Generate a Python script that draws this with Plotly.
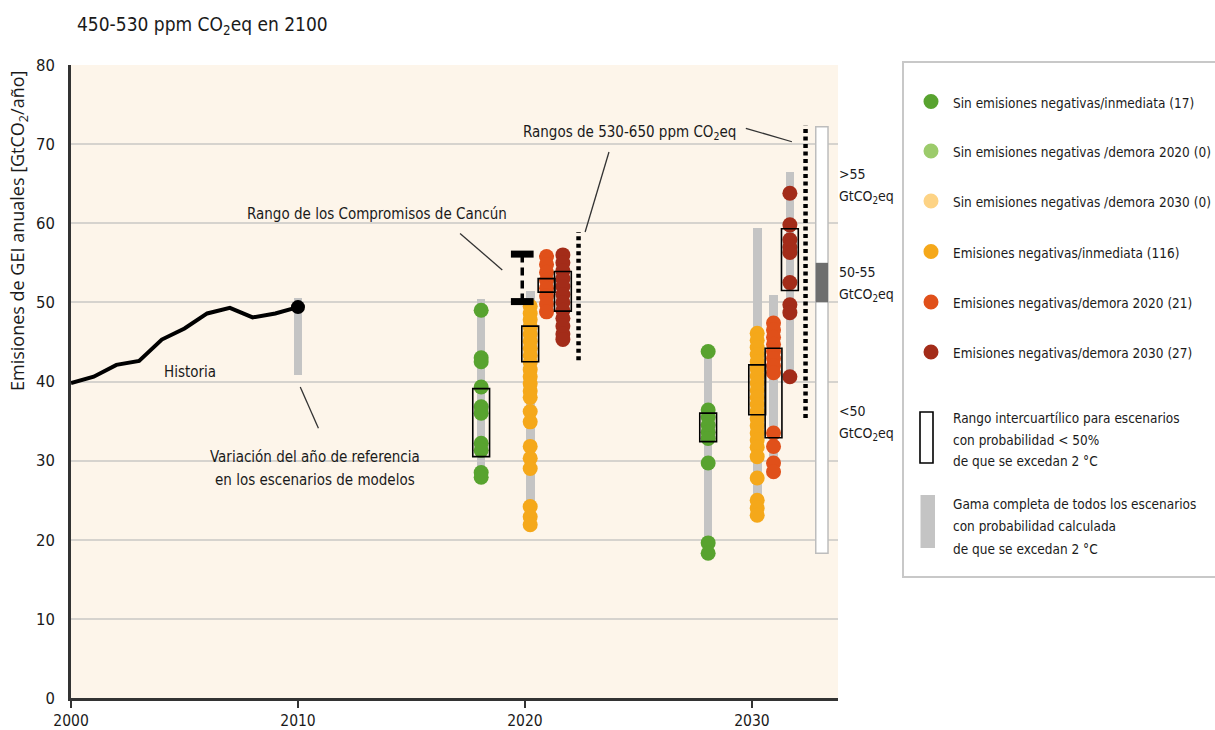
import plotly.graph_objects as go

# ---------------- data ----------------
hist_years = [2000, 2001, 2002, 2003, 2004, 2005, 2006, 2007, 2008, 2009, 2010]
hist_emis = [39.8, 40.6, 42.1, 42.6, 45.3, 46.7, 48.6, 49.3, 48.1, 48.6, 49.4]
base_year_low, base_year_high = 40.8, 50.6

out_years = [2020, 2030]

# scenario values (GtCO2eq/yr) per scenario group
green_2020 = [49.0, 43.0, 42.5, 39.3, 36.8, 36.0, 32.2, 31.3, 28.5, 27.9]
orange_2020 = [49.5, 48.6, 47.8, 46.9, 46.0, 45.1, 44.2, 43.3, 42.4, 41.5, 40.6, 39.7,
               38.8, 38.0, 36.2, 34.9, 31.8, 30.3, 29.0, 24.2, 22.9, 21.9]
redorange_2020 = [55.8, 54.8, 53.8, 52.8, 51.8, 50.8, 49.8, 48.8]
darkred_2020 = [56.0, 55.0, 54.0, 53.0, 52.0, 51.0, 50.0, 49.0, 48.0, 47.0, 46.0, 45.3]

green_2030 = [43.8, 36.4, 35.5, 34.5, 33.6, 32.8, 29.7, 19.6, 18.3]
orange_2030 = [46.1, 45.2, 44.3, 43.4, 42.5, 41.6, 40.7, 39.8, 38.9, 38.0, 37.1, 36.2,
               35.3, 34.4, 33.5, 32.6, 31.7, 30.5, 27.8, 25.0, 24.0, 23.1]
redorange_2030 = [47.4, 46.5, 45.6, 44.7, 43.8, 42.9, 42.0, 41.1, 33.5, 31.8, 29.7, 28.6]
darkred_2030 = [63.8, 59.8, 57.9, 57.0, 56.3, 52.5, 49.7, 48.7, 40.6]

# full ranges (grey bars): [low, high]
range_2020 = {"green": [27.5, 50.4], "orange": [21.2, 51.4],
              "redorange": [48.5, 56.0], "darkred": [45.0, 56.3]}
range_2030 = {"green": [18.3, 44.0], "orange": [22.5, 59.4],
              "redorange": [28.5, 50.9], "darkred": [40.6, 66.5]}

# interquartile ranges (boxes): [q1, q3]
iqr_2020 = {"green": [30.5, 39.1], "orange": [42.5, 47.0],
            "redorange": [51.3, 53.0], "darkred": [48.9, 53.9]}
iqr_2030 = {"green": [32.4, 36.0], "orange": [35.8, 42.1],
            "redorange": [32.9, 44.2], "darkred": [51.5, 59.3]}

cancun_low, cancun_high = 50.1, 56.1
ppm530_2020 = [42.7, 58.9]
ppm530_2030 = [35.4, 72.4]

gap_bar = [18.3, 72.2]
gap_band = [50.0, 55.0]

legend_labels = [
    "Sin emisiones negativas/inmediata (17)",
    "Sin emisiones negativas /demora 2020 (0)",
    "Sin emisiones negativas /demora 2030 (0)",
    "Emisiones negativas/inmediata (116)",
    "Emisiones negativas/demora 2020 (21)",
    "Emisiones negativas/demora 2030 (27)",
]

# ---------------- style ----------------
COLORS = {"green": "#58A32F", "lightgreen": "#9CCB6B", "lightorange": "#FDD385",
          "orange": "#F5A81A", "redorange": "#E0501A", "darkred": "#A32C19"}
OFFSET = {"green": -1.93, "orange": 0.23, "redorange": 0.95, "darkred": 1.67}
CANCUN_OFFSET = -0.12
DOTTED_OFFSET = 2.36
BG = "#FDF5EA"
GRID = "#D6D3CE"
GREY = "#C4C4C4"
NARROW = "Liberation Sans Narrow, DejaVu Sans Condensed, Arial Narrow, sans-serif"
REG = "Open Sans, Noto Sans, sans-serif"

W, H = 1215, 730
ML, MR, MT, MB = 71, 377, 65, 32
PW, PH = W - ML - MR, H - MT - MB


def px(x):
    return (x - ML) / PW


def py(y):
    return (H - MB - y) / PH


fig = go.Figure()

groups = ["green", "orange", "redorange", "darkred"]
values = {2020: {"green": green_2020, "orange": orange_2020,
                 "redorange": redorange_2020, "darkred": darkred_2020},
          2030: {"green": green_2030, "orange": orange_2030,
                 "redorange": redorange_2030, "darkred": darkred_2030}}
ranges = {2020: range_2020, 2030: range_2030}
iqrs = {2020: iqr_2020, 2030: iqr_2030}

# grey full-range bars
bx, bbase, bh = [2010], [base_year_low], [base_year_high - base_year_low]
for yr in out_years:
    for g in groups:
        lo, hi = ranges[yr][g]
        bx.append(yr + OFFSET[g])
        bbase.append(lo)
        bh.append(hi - lo)
fig.add_trace(go.Bar(x=bx, y=bh, base=bbase, width=0.38, marker_color=GREY,
                     marker_line_width=0, showlegend=False, hoverinfo="skip"))

# scenario dots
for yr in out_years:
    for g in groups:
        v = values[yr][g]
        fig.add_trace(go.Scatter(x=[yr + OFFSET[g]] * len(v), y=v, mode="markers",
                                 marker=dict(size=15, color=COLORS[g], line_width=0),
                                 showlegend=False))

# history
fig.add_trace(go.Scatter(x=hist_years, y=hist_emis, mode="lines",
                         line=dict(color="black", width=4), showlegend=False))
fig.add_trace(go.Scatter(x=[hist_years[-1]], y=[hist_emis[-1]], mode="markers",
                         marker=dict(size=14, color="black"), showlegend=False))

# Cancún pledges range
cx = out_years[0] + CANCUN_OFFSET
fig.add_trace(go.Scatter(x=[cx, cx], y=[cancun_low, cancun_high], mode="lines",
                         line=dict(color="black", width=3.5, dash="8px,5px"),
                         showlegend=False))
for v in (cancun_low, cancun_high):
    fig.add_trace(go.Scatter(x=[cx - 0.5, cx + 0.5], y=[v, v], mode="lines",
                             line=dict(color="black", width=7), showlegend=False))

# 530-650 ppm ranges (dotted)
for yr, rng in zip(out_years, [ppm530_2020, ppm530_2030]):
    fig.add_trace(go.Scatter(x=[yr + DOTTED_OFFSET] * 2, y=rng, mode="lines",
                             line=dict(color="black", width=4.5, dash="4px,3.5px"),
                             showlegend=False))

shapes = []
# interquartile boxes
for yr in out_years:
    for g in groups:
        q1, q3 = iqrs[yr][g]
        xc = yr + OFFSET[g]
        shapes.append(dict(type="rect", xref="x", yref="y", x0=xc - 0.37, x1=xc + 0.37,
                           y0=q1, y1=q3, line=dict(color="black", width=1.6),
                           fillcolor="rgba(0,0,0,0)", layer="above"))

# emission gap bar at the right edge
gx = 2033.08
shapes.append(dict(type="rect", xref="x", yref="y", x0=gx - 0.27, x1=gx + 0.27,
                   y0=gap_bar[0], y1=gap_bar[1], fillcolor="white",
                   line=dict(color="#BDBDBD", width=1.5), layer="above"))
shapes.append(dict(type="rect", xref="x", yref="y", x0=gx - 0.27, x1=gx + 0.27,
                   y0=gap_band[0], y1=gap_band[1], fillcolor="#6E6E6E",
                   line=dict(width=0), layer="above"))

# leader lines
leaders = [
    ((2010.1, 39.3), (2010.9, 34.1)),
    ((2017.14, 58.7), (2019.0, 54.1)),
    ((2023.7, 69.0), (2022.65, 58.9)),
    ((2029.73, 72.0), (2031.76, 70.3)),
]
for (xa, ya), (xb, yb) in leaders:
    shapes.append(dict(type="line", xref="x", yref="y", x0=xa, y0=ya, x1=xb, y1=yb,
                       line=dict(color="#333333", width=1.3)))

# legend panel
shapes.append(dict(type="rect", xref="paper", yref="paper",
                   x0=px(903), x1=px(1230), y0=py(577), y1=py(62),
                   fillcolor="white", line=dict(color="#C8C8C8", width=2)))
leg_y = [101.5, 151, 201, 251.5, 302, 352]
leg_cols = ["green", "lightgreen", "lightorange", "orange", "redorange", "darkred"]
for yy, c in zip(leg_y, leg_cols):
    shapes.append(dict(type="circle", xref="paper", yref="paper",
                       x0=px(923.5), x1=px(938.5), y0=py(yy + 7.5), y1=py(yy - 7.5),
                       fillcolor=COLORS[c], line=dict(width=0)))
shapes.append(dict(type="rect", xref="paper", yref="paper",
                   x0=px(920), x1=px(933), y0=py(463), y1=py(412),
                   fillcolor="white", line=dict(color="black", width=1.6)))
shapes.append(dict(type="rect", xref="paper", yref="paper",
                   x0=px(920.5), x1=px(935), y0=py(548), y1=py(495),
                   fillcolor=GREY, line=dict(width=0)))

annotations = []


def text(x, y, s, size=15, xanchor="left", ref="paper", font=NARROW, **kw):
    if ref == "paper":
        annotations.append(dict(x=px(x), y=py(y), xref="paper", yref="paper", text=s,
                                showarrow=False, xanchor=xanchor, yanchor="middle",
                                font=dict(family=font, size=size, color="#1A1A1A"), **kw))
    else:
        annotations.append(dict(x=x, y=y, xref="x", yref="y", text=s,
                                showarrow=False, xanchor=xanchor, yanchor="middle",
                                font=dict(family=font, size=size, color="#1A1A1A"), **kw))


text(75, 26, "450-530 ppm CO<sub>2</sub>eq en 2100", size=19)
text(19, 231, "Emisiones de GEI anuales [GtCO<sub>2</sub>/año]", size=18,
     xanchor="center", font=REG, textangle=-90)

text(2005.25, 41.2, "Historia", ref="data", xanchor="center")
text(2010.75, 30.4, "Variación del año de referencia", ref="data", xanchor="center")
text(2010.75, 27.6, "en los escenarios de modelos", ref="data", xanchor="center")
text(2013.5, 61.2, "Rango de los Compromisos de Cancún", ref="data", xanchor="center")
text(2024.6, 71.5, "Rangos de 530-650 ppm CO<sub>2</sub>eq", ref="data", xanchor="center")

for yy, lab in [(174, "&gt;55"), (272, "50-55"), (411, "&lt;50")]:
    text(837, yy, lab, size=14)
    text(837, yy + 23, "GtCO<sub>2</sub>eq", size=14)

for yy, lab in zip(leg_y, legend_labels):
    text(951, yy + 1, lab, size=13.5)
for yy, lab in zip([418, 439.5, 461],
                   ["Rango intercuartílico para escenarios",
                    "con probabilidad &lt; 50%", "de que se excedan 2 °C"]):
    text(951, yy, lab, size=13.5)
for yy, lab in zip([504, 526, 549],
                   ["Gama completa de todos los escenarios",
                    "con probabilidad calculada", "de que se excedan 2 °C"]):
    text(951, yy, lab, size=13.5)

fig.update_layout(
    width=W, height=H,
    margin=dict(l=ML, r=MR, t=MT, b=MB, pad=0, autoexpand=False),
    paper_bgcolor="white", plot_bgcolor=BG,
    showlegend=False, bargap=0,
    shapes=shapes, annotations=annotations,
    xaxis=dict(range=[2000, 2033.79], tickvals=[2000, 2010, 2020, 2030],
               ticks="outside", ticklen=7, tickwidth=1.5, tickcolor="#333",
               showline=True, linecolor="#333", linewidth=2.5, showgrid=False,
               zeroline=False, ticklabelstandoff=0, automargin=False,
               tickfont=dict(family=NARROW, size=15.5, color="#1A1A1A")),
    yaxis=dict(range=[0, 80], dtick=10, showgrid=True, gridcolor=GRID, gridwidth=2,
               showline=True, linecolor="#333", linewidth=2.5, ticks="",
               zeroline=False, ticklabelstandoff=10, automargin=False,
               tickfont=dict(family=NARROW, size=16.5, color="#1A1A1A")),
)

fig.write_html("out.html")
